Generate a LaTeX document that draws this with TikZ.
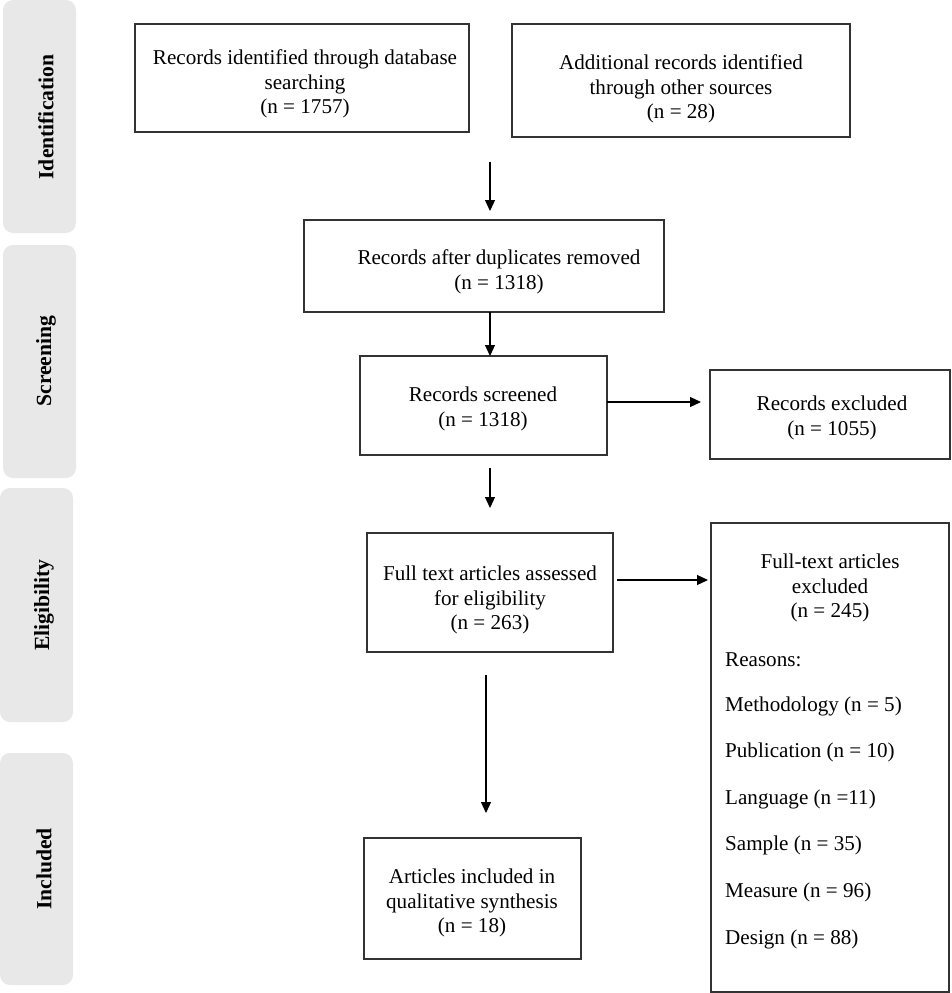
\documentclass[tikz,border=0pt]{standalone}
\usepackage{fontspec}
\setmainfont{Liberation Serif}
\usetikzlibrary{arrows.meta}
\begin{document}
\begin{tikzpicture}[x=1pt,y=-1pt,
  box/.style={draw=black!80,line width=1.2pt,inner sep=0pt},
  txt/.style={font=\fontsize{21.1}{24.5}\selectfont,align=center,inner sep=0pt},
  ltxt/.style={font=\fontsize{21.1}{24.5}\selectfont,anchor=west,inner sep=0pt},
  side/.style={fill=black!9,rounded corners=10pt},
  sidetxt/.style={font=\bfseries\fontsize{21.6}{24}\selectfont,rotate=90,inner sep=0pt},
  arr/.style={line width=1.2pt,-{Triangle[length=11pt,width=10pt]}}]
\useasboundingbox (0,0) rectangle (951,993);
% side bars
\fill[side] (3,0) rectangle (76,233);
\fill[side] (3,245) rectangle (76,478);
\fill[side] (0,488) rectangle (73,722);
\fill[side] (0,753) rectangle (73,985);
\node[sidetxt] (sid) at (46,117) {Identification};
\node[sidetxt] (sscr) at (46,361) {Screening};
\node[sidetxt] (sel) at (44,605) {Eligibility};
\node[sidetxt] (sinc) at (44,869) {Included};
% boxes
\draw[box] (135,24) rectangle (469,132);
\node[txt] (b1) at (305,84) {Records identified through database\\searching\\(n = 1757)};
\draw[box] (512,24) rectangle (850,137);
\node[txt] (b2) at (681,89) {Additional records identified\\through other sources\\(n = 28)};
\draw[box] (304,220) rectangle (664,312);
\node[txt] (b3) at (499,272) {Records after duplicates removed\\(n = 1318)};
\draw[box] (360,356) rectangle (607,455);
\node[txt] (b4) at (483,409) {Records screened\\(n = 1318)};
\draw[box] (710,370) rectangle (950,459);
\node[txt] (b5) at (832,418) {Records excluded\\(n = 1055)};
\draw[box] (367,533) rectangle (613,652);
\node[txt] (b6) at (490,600) {Full text articles assessed\\for eligibility\\(n = 263)};
\draw[box] (711,523) rectangle (949,992);
\node[txt] (b7) at (830,588) {Full-text articles\\excluded\\(n = 245)};
\node[ltxt] (r0) at (725,660) {Reasons:};
\node[ltxt] (r1) at (725,706) {Methodology (n = 5)};
\node[ltxt] (r2) at (725,752) {Publication (n = 10)};
\node[ltxt] (r3) at (725,799) {Language (n =11)};
\node[ltxt] (r4) at (725,845) {Sample (n = 35)};
\node[ltxt] (r5) at (725,892) {Measure (n = 96)};
\node[ltxt] (r6) at (725,939) {Design (n = 88)};
\draw[box] (364,838) rectangle (581,959);
\node[txt] (b8) at (472,903) {Articles included in\\qualitative synthesis\\(n = 18)};
% arrow coordinates
\coordinate (a1s) at (490,162); \coordinate (a1e) at (490,211);
\coordinate (a2s) at (490,312); \coordinate (a2e) at (490,356);
\coordinate (a3s) at (607,402); \coordinate (a3e) at (701,402);
\coordinate (a4s) at (490,468); \coordinate (a4e) at (490,508);
\coordinate (a5s) at (617,580); \coordinate (a5e) at (708,580);
\coordinate (a6s) at (486,675); \coordinate (a6e) at (486,813);
\draw[arr] (a1s) -- (a1e);
\draw[arr] (a2s) -- (a2e);
\draw[arr] (a3s) -- (a3e);
\draw[arr] (a4s) -- (a4e);
\draw[arr] (a5s) -- (a5e);
\draw[arr] (a6s) -- (a6e);
\end{tikzpicture}
\end{document}
